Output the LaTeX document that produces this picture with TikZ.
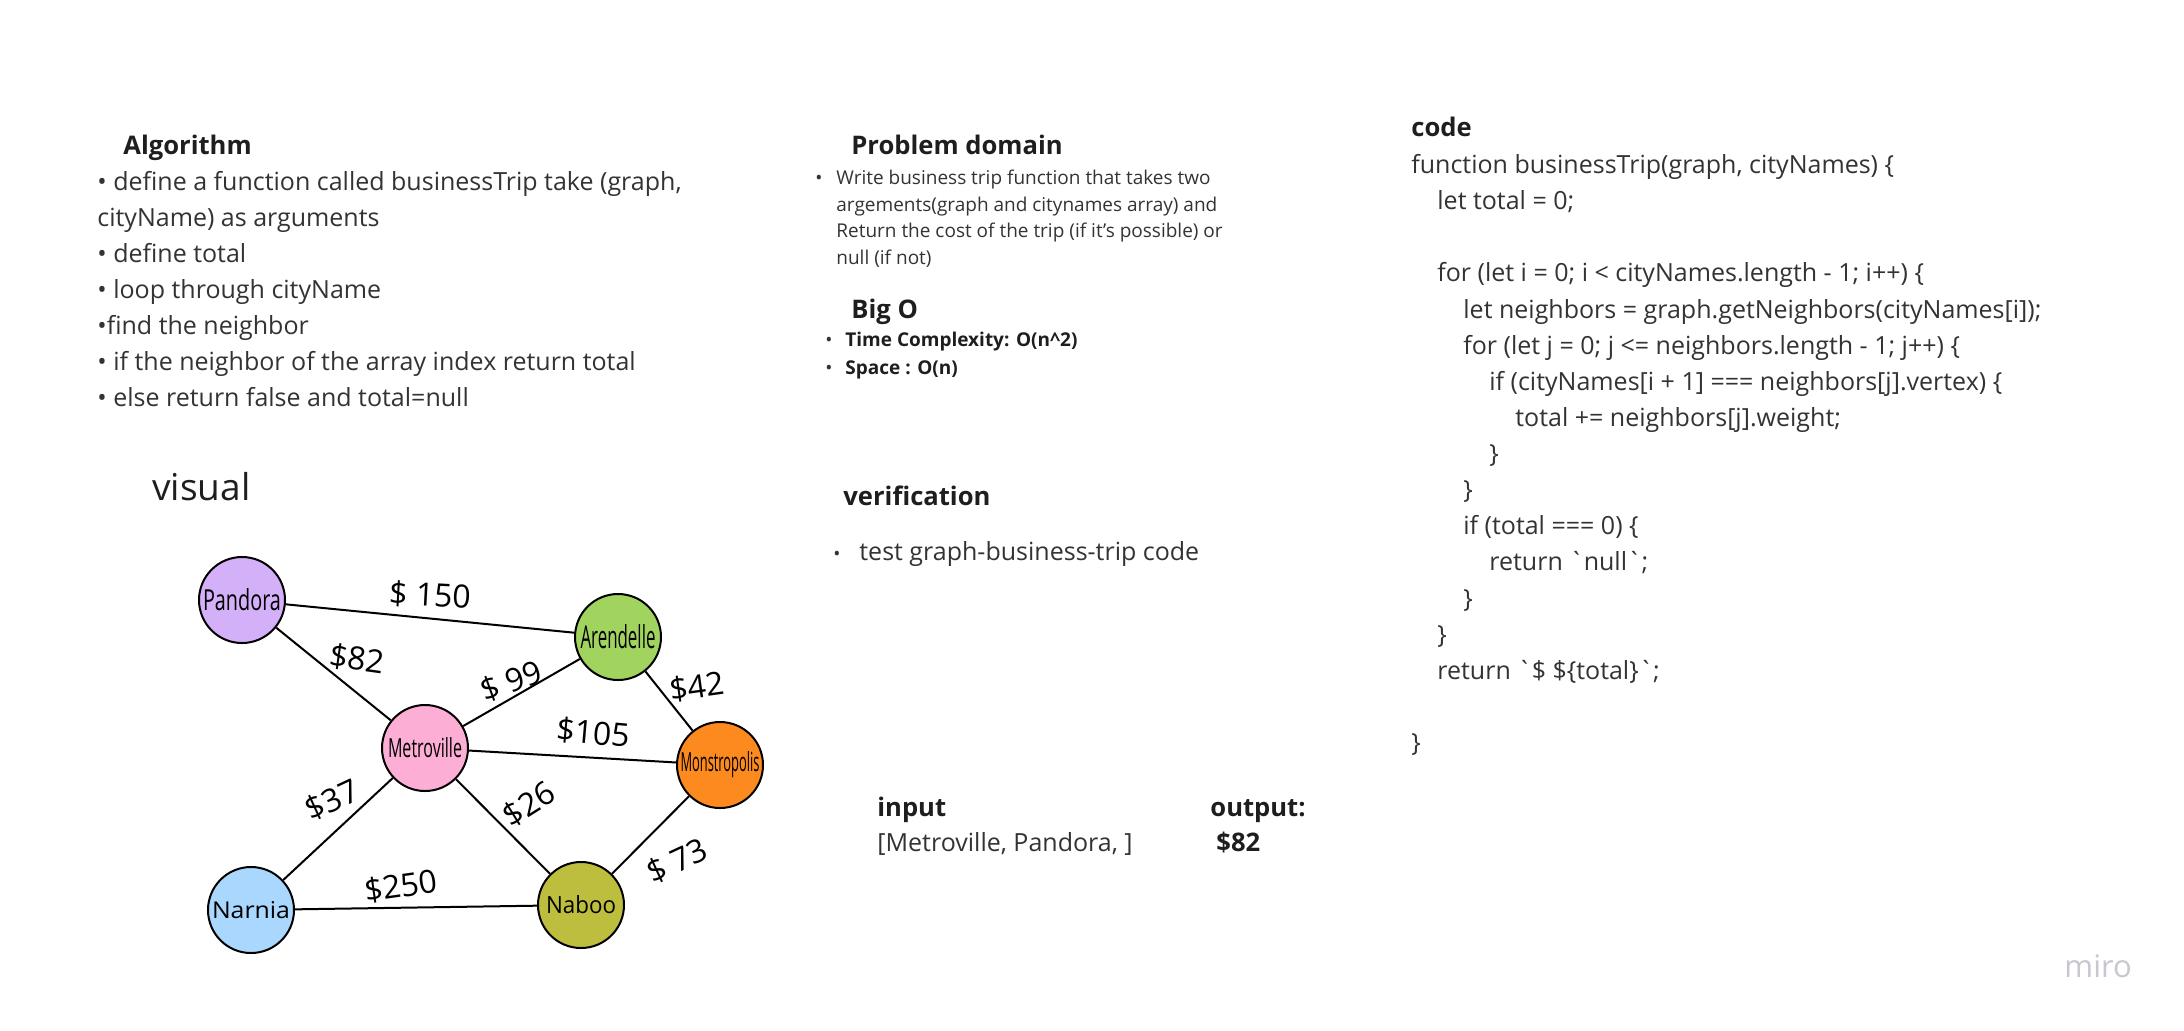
\documentclass[tikz,border=0pt]{standalone}
\usepackage{fontspec}
\setmainfont{Open Sans}
\newfontfamily\codefont{Open Sans}
\usetikzlibrary{positioning}
\definecolor{inkdark}{HTML}{1E1E1E}
\definecolor{inkbody}{HTML}{333333}
\definecolor{mirogray}{HTML}{C6C7D1}
\definecolor{pandoracol}{HTML}{D4B0F8}
\definecolor{arendellecol}{HTML}{A1D45E}
\definecolor{metrovillecol}{HTML}{FDAED4}
\definecolor{monstrocol}{HTML}{FD8A1E}
\definecolor{narniacol}{HTML}{A9D7FD}
\definecolor{naboocol}{HTML}{BEBE3E}
% hand written names: width, height, text
\newcommand{\handname}[3]{\resizebox{#1}{#2}{#3}}

\begin{document}
\begin{tikzpicture}[x=0.5pt,y=-0.5pt,
  head/.style={anchor=base west,inner sep=0pt,text=inkdark,font=\fontsize{12.8}{15}\selectfont\bfseries},
  body/.style={anchor=base west,inner sep=0pt,text=inkbody,font=\fontsize{12.5}{15}\selectfont},
  small/.style={anchor=base west,inner sep=0pt,text=inkbody,font=\fontsize{9.5}{12}\selectfont},
  smallbold/.style={anchor=base west,inner sep=0pt,text=inkdark,font=\fontsize{9.5}{12}\selectfont\bfseries},
  codeline/.style={anchor=base west,inner sep=0pt,text=inkbody,font=\codefont\fontsize{12.5}{15}\selectfont},
  city/.style={circle,draw=black,line width=1pt,minimum size=43pt,inner sep=0pt,text=black},
  cost/.style={inner sep=0pt,font=\fontsize{16}{18}\selectfont},
  road/.style={line width=1pt,black},
]
\fill[white] (0,0) rectangle (2184,1030);
\useasboundingbox (0,0) rectangle (2184,1030);

% Algorithm
\node[head] (alghead) at (123,154) {Algorithm};
\foreach \t [count=\i] in {{• define a function called businessTrip take (graph,},
    {cityName) as arguments}, {• define total}, {• loop through cityName},
    {•find the neighbor}, {• if the neighbor of the array index return total},
    {• else return false and total=null}}
  \node[body] (alg\i) at (97,190.5+36*\i-36) {\t};

% Problem domain
\node[head] (probhead) at (851,154) {Problem domain};
\node[small] (probbullet) at (815,184.5) {•};
\node[small] (prob1) at (836,184.5) {Write business trip function that takes two};
\node[small] (prob2) at (836,211) {argements(graph and citynames array) and};
\node[small] (prob3) at (836,237.5) {Return the cost of the trip (if it's possible) or};
\node[small] (prob4) at (836,264) {null (if not)};

% Big O
\node[head] (bigohead) at (851,318) {Big O};
\node[small] (timebullet) at (825,346) {•};
\node[smallbold] (timeline) at (845,346) {Time Complexity: O(n\textasciicircum 2)};
\node[small] (spacebullet) at (825,374) {•};
\node[smallbold] (spaceline) at (845,374) {Space : O(n)};

% verification
\node[head] (verhead) at (843,505.5) {verification};
\node[small] (verbullet) at (833,560.5) {•};
\node[body] (verline) at (859,560.5) {test graph-business-trip code};

% input / output
\node[head] (inhead) at (877,816) {input};
\node[head] (outhead) at (1210,816) {output:};
\node[body] (inval) at (877,851) {[Metroville, Pandora, ]};
\node[head] (outval) at (1216,851) {\$82};

% code
\node[head] (codehead) at (1411,136) {code};
\node[codeline] (c1) at (1411,173.5) {function businessTrip(graph, cityNames) \{};
\node[codeline] (c2) at (1437,209.6) {let total = 0;};
\node[codeline] (c4) at (1437,281.9) {for (let i = 0; i < cityNames.length - 1; i++) \{};
\node[codeline] (c5) at (1463,318) {let neighbors = graph.getNeighbors(cityNames[i]);};
\node[codeline] (c6) at (1463,354.1) {for (let j = 0; j <= neighbors.length - 1; j++) \{};
\node[codeline] (c7) at (1489,390.3) {if (cityNames[i + 1] === neighbors[j].vertex) \{};
\node[codeline] (c8) at (1515,426.4) {total += neighbors[j].weight;};
\node[codeline] (c9) at (1489,462.5) {\}};
\node[codeline] (c10) at (1463,498.7) {\}};
\node[codeline] (c11) at (1463,534.8) {if (total === 0) \{};
\node[codeline] (c12) at (1489,570.9) {return `null`;};
\node[codeline] (c13) at (1463,607.1) {\}};
\node[codeline] (c14) at (1437,643.2) {\}};
\node[codeline] (c15) at (1437,679.3) {return `\$ \$\{total\}`;};
\node[codeline] (c17) at (1411,751.6) {\}};

% visual
\node[anchor=base west,inner sep=0pt,text=inkdark,font=\fontsize{18.5}{22}\selectfont] (visual) at (152,500) {visual};

% cities
\node[city,fill=pandoracol] (pandora) at (242,600) {\handname{39pt}{11pt}{Pandora}};
\node[city,fill=arendellecol] (arendelle) at (618,637) {\handname{37.5pt}{12pt}{Arendelle}};
\node[city,fill=metrovillecol] (metroville) at (425,748) {\handname{37pt}{10pt}{Metroville}};
\node[city,fill=monstrocol] (monstropolis) at (720,765) {\handname{39.5pt}{10pt}{Monstropolis}};
\node[city,fill=narniacol] (narnia) at (251,910) {\handname{39pt}{8.5pt}{Narnia}};
\node[city,fill=naboocol] (naboo) at (581,905) {\handname{35pt}{9pt}{Naboo}};

% roads
\draw[road] (pandora) -- (arendelle);
\draw[road] (pandora) -- (metroville);
\draw[road] (metroville) -- (arendelle);
\draw[road] (arendelle) -- (monstropolis);
\draw[road] (metroville) -- (monstropolis);
\draw[road] (metroville) -- (narnia);
\draw[road] (metroville) -- (naboo);
\draw[road] (narnia) -- (naboo);
\draw[road] (naboo) -- (monstropolis);

% costs
\node[cost,rotate=-3] (cost150) at (430,595) {\$ 150};
\node[cost,rotate=-8] (cost82) at (357,659) {\$82};
\node[cost,rotate=20] (cost99) at (511,681) {\$ 99};
\node[cost,rotate=8] (cost42) at (697,687) {\$42};
\node[cost,rotate=-5] (cost105) at (593,733) {\$105};
\node[cost,rotate=25] (cost37) at (332,800) {\$37};
\node[cost,rotate=32] (cost26) at (529,804) {\$26};
\node[cost,rotate=8] (cost250) at (401,886) {\$250};
\node[cost,rotate=25] (cost73) at (677,861) {\$ 73};

% logo
\node[anchor=base west,inner sep=0pt,text=mirogray,font=\fontsize{15.5}{18}\selectfont] (miro) at (2064,977) {miro};
\end{tikzpicture}
\end{document}
